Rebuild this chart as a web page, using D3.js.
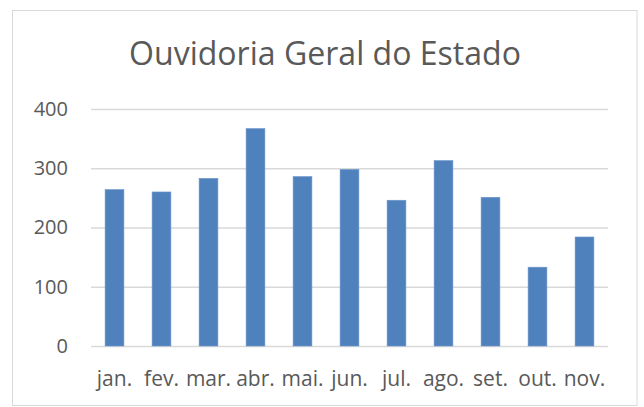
<!DOCTYPE html>
<html><head><meta charset="utf-8">
<script src="https://cdn.jsdelivr.net/npm/d3@7"></script>
<style>
html,body{margin:0;padding:0;background:#fff;}
svg{display:block;}
</style></head>
<body>
<script>
const months = ["jan.","fev.","mar.","abr.","mai.","jun.","jul.","ago.","set.","out.","nov."];
const values = [264,260,283,367,286,298,246,313,251,133,184];
const yTicks = [0,100,200,300,400];
const title = "Ouvidoria Geral do Estado";

const W = 644, H = 407;
const FONT = "'Open Sans', 'Liberation Sans', sans-serif";
const svg = d3.select("body").append("svg").attr("width", W).attr("height", H);

svg.append("rect").attr("x", 12.5).attr("y", 10.5).attr("width", 624.5).attr("height", 395)
  .attr("fill", "#fff").attr("stroke", "#d9d9d9").attr("stroke-width", 1);

const x = d3.scaleBand().domain(months).range([91, 608]).paddingInner(0.6).paddingOuter(0.3);
const y = d3.scaleLinear().domain([0, 400]).range([346, 109]);

// gridlines
const gy = d3.axisLeft(y).tickValues(yTicks).tickSize(-(608 - 91)).tickFormat("");
const grid = svg.append("g").attr("transform", "translate(91,0)").call(gy);
grid.select(".domain").remove();
grid.selectAll("line").attr("stroke", "#d9d9d9").attr("stroke-width", 1.3);

// y labels
const ya = d3.axisLeft(y).tickValues(yTicks).tickSize(0).tickPadding(0);
const yg = svg.append("g").attr("transform", "translate(68,0)").call(ya);
yg.select(".domain").remove();
yg.selectAll("text").attr("fill", "#595959").attr("font-family", FONT).attr("font-size", 20);

// bars
svg.append("g").selectAll("rect").data(values).join("rect")
  .attr("x", (d, i) => x(months[i]))
  .attr("y", d => y(d))
  .attr("width", x.bandwidth())
  .attr("height", d => y(0) - y(d))
  .attr("fill", "#4f81bd")
  .attr("stroke", "#6f98cc").attr("stroke-width", 0.6);

// x labels
const xa = d3.axisBottom(x).tickSize(0).tickPadding(0);
const xg = svg.append("g").attr("transform", "translate(0,371)").call(xa);
xg.select(".domain").remove();
xg.selectAll("text").attr("fill", "#595959").attr("font-family", FONT).attr("font-size", 21)
  .attr("dy", "0.71em");

// title
const t = svg.append("text").attr("x", 325).attr("y", 65).attr("text-anchor", "middle")
  .attr("fill", "#595959").attr("font-family", FONT).attr("font-size", 30).text(title);
const tw = t.node().getComputedTextLength();
t.attr("font-size", 30 * 392 / tw);
</script>
</body></html>
